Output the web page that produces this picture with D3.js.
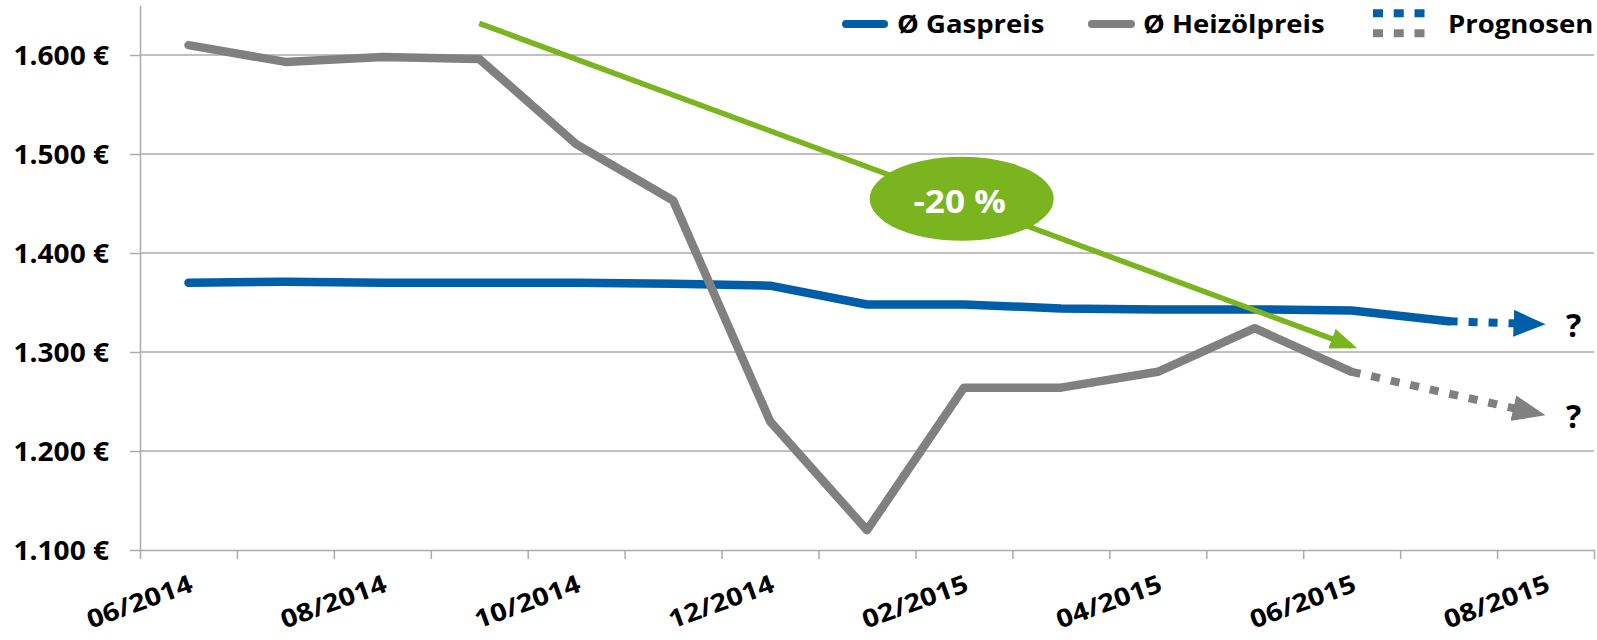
<!DOCTYPE html>
<html><head><meta charset="utf-8">
<script src="https://cdn.jsdelivr.net/npm/d3@7"></script>
<style>
html,body{margin:0;padding:0;background:#fff;}
svg{display:block;}
text{font-family:"Open Sans",sans-serif;font-weight:700;fill:#000;}
</style></head><body>
<svg id="chart" width="1597" height="640"></svg>
<script>
// ---------- data ----------
const categories = ["06/2014","07/2014","08/2014","09/2014","10/2014","11/2014","12/2014","01/2015","02/2015","03/2015","04/2015","05/2015","06/2015","07/2015","08/2015"];
const tickLabels = ["06/2014","08/2014","10/2014","12/2014","02/2015","04/2015","06/2015","08/2015"];
const gasCats = categories.slice(0, 14);
const gasPrice = [1370,1371,1370,1370,1370,1369,1367,1348,1348,1344,1343,1343,1342,1331];
const oilCats = categories.slice(0, 13);
const oilPrice = [1610,1593,1598,1596,1510,1453,1230,1120,1264,1264,1280,1324,1280];
const gasForecastCats = ["07/2015","08/2015"];
const gasForecast = [1331,1328];
const oilForecastCats = ["06/2015","08/2015"];
const oilForecast = [1280,1236];
const trendCats = ["09/2014","06/2015"];
const trendValues = [1632,1306];
const trendLabel = "-20 %";
const forecastMark = "?";
const yTicks = [1100,1200,1300,1400,1500,1600];
const yDomain = [1100,1650];
const legendNames = ["Ø Gaspreis","Ø Heizölpreis","Prognosen"];

// ---------- styles ----------
const BLUE = "#005ea8", GRAY = "#808080", GREEN = "#7ab41f", GRID = "#ababab";
const svg = d3.select("#chart");
const L = 140, R = 1594, T = 5.5, B = 550;

const xb = d3.scaleBand().domain(categories).range([L, R]).padding(0);
const cx = c => xb(c) + xb.bandwidth() / 2;
const xIdx = d3.scaleLinear().domain([0, categories.length]).range([L, R]);
const y = d3.scaleLinear().domain(yDomain).range([B, T]);

// gridlines
svg.append("g").selectAll("line").data(yTicks.filter(v => v > yDomain[0])).join("line")
  .attr("x1", L).attr("x2", R).attr("y1", d => y(d)).attr("y2", d => y(d))
  .attr("stroke", GRID).attr("stroke-width", 1.5);

// y axis
const fmt = v => d3.format(",")(v).replace(",", ".") + " €";
const yScaleX = 1.08;
const gy = svg.append("g").attr("transform", `translate(${L},0)`)
  .call(d3.axisLeft(y).tickValues(yTicks).tickSize(10).tickSizeOuter(0).tickFormat(fmt));
gy.selectAll("path,line").attr("stroke", GRID).attr("stroke-width", 1.5);
gy.selectAll("text").attr("x", -31 / yScaleX).attr("dy", "0.36em")
  .attr("transform", `scale(${yScaleX},1)`)
  .style("font-size", "26px").style("font-family", '"Open Sans",sans-serif').style("font-weight", 700).attr("fill", "#000");

// x axis (ticks between categories)
const gx = svg.append("g").attr("transform", `translate(0,${B})`)
  .call(d3.axisBottom(xIdx).tickValues(d3.range(categories.length + 1)).tickSize(9).tickSizeOuter(0).tickFormat(""));
gx.selectAll("path,line").attr("stroke", GRID).attr("stroke-width", 1.5);

// x labels
svg.append("g").selectAll("text").data(tickLabels).join("text")
  .attr("transform", d => `translate(${cx(d) + 6},${B + 41}) rotate(-20) scale(1.15,1)`)
  .attr("text-anchor", "end").style("font-size", "25px").text(d => d);

// markers
const defs = svg.append("defs");
function arrowMarker(id, color, len, half, refX) {
  defs.append("marker").attr("id", id).attr("markerUnits", "userSpaceOnUse")
    .attr("viewBox", `0 ${-half} ${len} ${2 * half}`).attr("markerWidth", len).attr("markerHeight", 2 * half)
    .attr("refX", refX).attr("refY", 0).attr("orient", "auto")
    .append("path").attr("d", `M0,${-half}L${len},0L0,${half}Z`).attr("fill", color);
}
arrowMarker("arrBlue", BLUE, 32, 13.5, 32);
arrowMarker("arrGray", GRAY, 33, 13, 33);
arrowMarker("arrGreen", GREEN, 27, 10.5, 21);

const line = d3.line().x(d => cx(d.c)).y(d => y(d.v));
const zip = (cs, vs) => cs.map((c, i) => ({ c, v: vs[i] }));

// solid series
svg.append("path").datum(zip(gasCats, gasPrice)).attr("d", line)
  .attr("fill", "none").attr("stroke", BLUE).attr("stroke-width", 8.5)
  .attr("stroke-linecap", "round").attr("stroke-linejoin", "round");
svg.append("path").datum(zip(oilCats, oilPrice)).attr("d", line)
  .attr("fill", "none").attr("stroke", GRAY).attr("stroke-width", 8.5)
  .attr("stroke-linecap", "round").attr("stroke-linejoin", "round");

// forecast dashed arrows (line stops at arrow base, head tip at last point)
function forecast(cats, vals, color, marker, headLen) {
  const p = zip(cats, vals).map(d => [cx(d.c), y(d.v)]);
  const a = p[p.length - 2], b = p[p.length - 1];
  const dx = b[0] - a[0], dy = b[1] - a[1], len = Math.hypot(dx, dy);
  const base = [b[0] - dx / len * (headLen - 2), b[1] - dy / len * (headLen - 2)];
  const pts = p.slice(0, -1).concat([base]);
  svg.append("path").attr("d", d3.line()(pts)).attr("fill", "none")
    .attr("stroke", color).attr("stroke-width", 8).attr("stroke-dasharray", "9,11");
  svg.append("path").attr("d", d3.line()([base, b])).attr("fill", "none")
    .attr("stroke", "none").attr("marker-end", `url(#${marker})`);
  svg.append("text").attr("x", b[0] + 28).attr("y", b[1] + 13).attr("text-anchor", "middle")
    .style("font-size", "32px").text(forecastMark);
}
forecast(gasForecastCats, gasForecast, BLUE, "arrBlue", 32);
forecast(oilForecastCats, oilForecast, GRAY, "arrGray", 33);

// green trend arrow
const tp = zip(trendCats, trendValues).map(d => [cx(d.c), y(d.v)]);
svg.append("path").attr("d", d3.line()(tp)).attr("fill", "none")
  .attr("stroke", GREEN).attr("stroke-width", 5.5).attr("marker-end", "url(#arrGreen)");
const t = 0.553;
const ex = tp[0][0] + t * (tp[1][0] - tp[0][0]);
const ey = tp[0][1] + t * (tp[1][1] - tp[0][1]) - 3;
svg.append("ellipse").attr("cx", ex).attr("cy", ey).attr("rx", 92).attr("ry", 42).attr("fill", GREEN);
svg.append("text").attr("transform", `translate(${ex - 2},${ey + 14}) scale(1.1,1)`)
  .attr("text-anchor", "middle").style("font-size", "32px").attr("fill", "#fff").style("fill", "#fff").text(trendLabel);

// legend
const lg = svg.append("g");
const legScale = 1.1;
lg.append("line").attr("x1", 846).attr("x2", 884).attr("y1", 24).attr("y2", 24)
  .attr("stroke", BLUE).attr("stroke-width", 8).attr("stroke-linecap", "round");
lg.append("line").attr("x1", 1092).attr("x2", 1131).attr("y1", 24).attr("y2", 24)
  .attr("stroke", GRAY).attr("stroke-width", 8).attr("stroke-linecap", "round");
[[BLUE, 13.3], [GRAY, 33.3]].forEach(([c, yy]) => {
  lg.append("line").attr("x1", 1373).attr("x2", 1424.5).attr("y1", yy).attr("y2", yy)
    .attr("stroke", c).attr("stroke-width", 8).attr("stroke-dasharray", "10,10.75");
});
[[897, legendNames[0]], [1143, legendNames[1]], [1448, legendNames[2]]].forEach(([x0, s]) => {
  lg.append("text").attr("transform", `translate(${x0},33.3) scale(${legScale},1)`)
    .style("font-size", "25px").text(s);
});
</script>
</body></html>
